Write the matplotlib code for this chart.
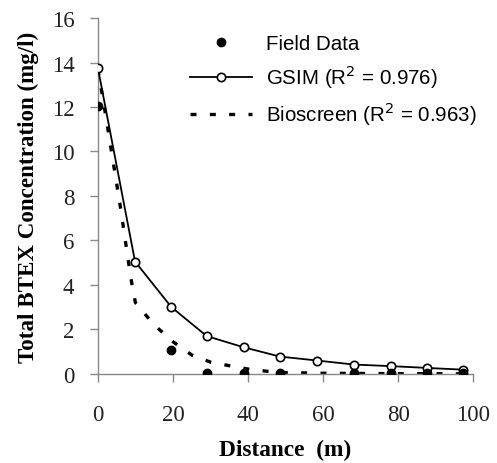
import matplotlib
matplotlib.use("Agg")
import matplotlib.pyplot as plt
from matplotlib.lines import Line2D

# Field data
field_x = [0, 19.6, 29.0, 38.8, 48.5, 68.3, 78.1, 87.6, 97.4]
field_y = [12.05, 1.07, 0.03, 0.03, 0.03, 0.03, 0.03, 0.03, 0.03]

# GSIM model
gsim_x = [0, 9.9, 19.6, 29.0, 38.8, 48.5, 58.5, 68.3, 78.1, 87.6, 97.4]
gsim_y = [13.75, 5.05, 3.0, 1.7, 1.2, 0.78, 0.6, 0.42, 0.35, 0.27, 0.19]

# Bioscreen model
bio_x = [0, 2, 4, 6, 8, 9, 10, 12, 15, 20, 25, 30, 35, 40, 45, 50, 60, 70, 80, 90, 97.4]
bio_y = [13.7, 11.7, 9.6, 7.5, 5.2, 4.1, 3.2, 2.8, 2.2, 1.45, 0.85, 0.53, 0.37, 0.22, 0.12,
         0.06, 0.03, 0.02, 0.01, 0.01, 0.0]

xticks = [0, 20, 40, 60, 80, 100]
yticks = [0, 2, 4, 6, 8, 10, 12, 14, 16]

DASH = (0, (1.8, 4.0))

fig = plt.figure(figsize=(4.97, 4.64), dpi=100)
ax = fig.add_axes([0.197, 0.192, 0.755, 0.767])

ax.plot(bio_x, bio_y, color="black", lw=2.4, linestyle=DASH, zorder=2)
ax.plot(gsim_x, gsim_y, color="black", lw=1.3, marker="o", markersize=6,
        markerfacecolor="white", markeredgecolor="black", markeredgewidth=1.2, zorder=3)
ax.plot(field_x, field_y, linestyle="none", marker="o", markersize=6,
        markerfacecolor="black", markeredgecolor="black", zorder=4)

ax.set_xlim(0, 100)
ax.set_ylim(0, 16)
ax.set_xticks(xticks)
ax.set_yticks(yticks)

for s in ["top", "right"]:
    ax.spines[s].set_visible(False)
for s in ["left", "bottom"]:
    ax.spines[s].set_color("#888888")
    ax.spines[s].set_linewidth(1.0)

ax.tick_params(axis="both", direction="out", length=6, width=1.0, color="#888888",
               labelsize=16.5, labelcolor="#222222")
ax.tick_params(axis="x", pad=16)
ax.tick_params(axis="y", pad=11)
for lab in ax.get_xticklabels() + ax.get_yticklabels():
    lab.set_fontfamily("Liberation Serif")

ax.set_xlabel("Distance  (m)", fontfamily="Liberation Serif", fontweight="bold",
              fontsize=16.8, labelpad=10)
ax.set_ylabel("Total BTEX Concentration (mg/l)", fontfamily="Liberation Serif",
              fontweight="bold", fontsize=16.6, labelpad=9)

handles = [
    Line2D([], [], linestyle="none", marker="o", markersize=6, markerfacecolor="black",
           markeredgecolor="black"),
    Line2D([], [], color="black", lw=1.3, marker="o", markersize=6, markerfacecolor="white",
           markeredgecolor="black", markeredgewidth=1.2),
    Line2D([], [], color="black", lw=2.4, linestyle=DASH),
]
labels = ["Field Data", r"GSIM (R$^2$ = 0.976)", r"Bioscreen (R$^2$ = 0.963)"]
leg = ax.legend(handles, labels, loc="upper left", bbox_to_anchor=(0.197, 1.006),
                frameon=False, prop={"family": "Liberation Sans", "size": 14.8},
                handlelength=3.0, handletextpad=0.7, labelspacing=0.45)

fig.savefig("out.png", dpi=100)
